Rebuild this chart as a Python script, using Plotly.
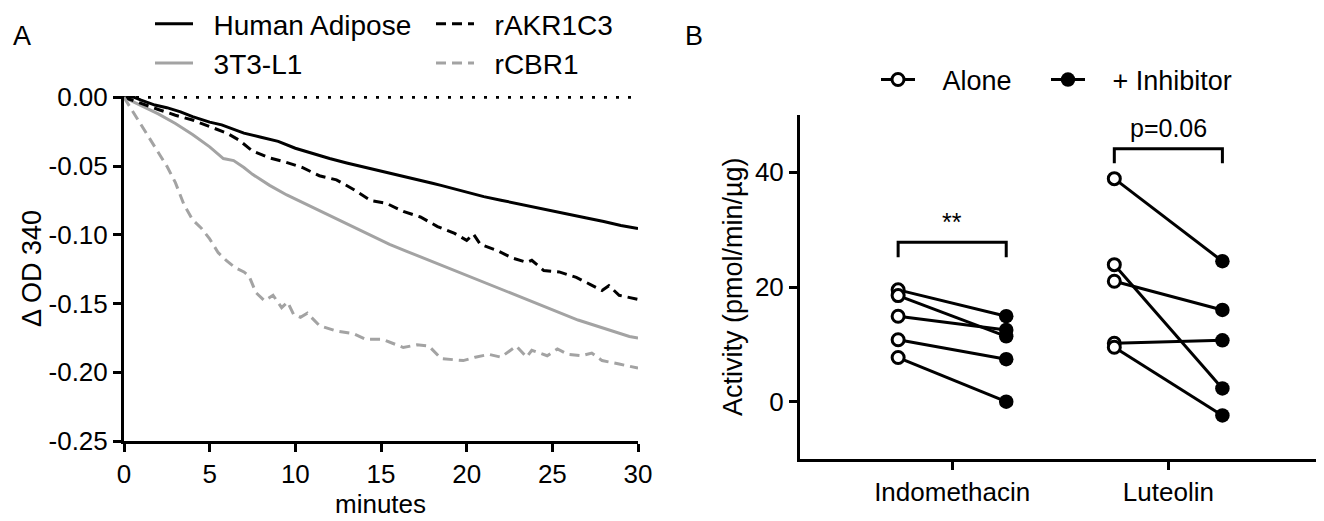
import plotly.graph_objects as go

FONT = "Liberation Sans, Arial, sans-serif"
# the page body has an 8px margin, so the figure is drawn 8px in from the window corner
PAGE_OFF = 8
W, H = 1324 - PAGE_OFF, 521 - PAGE_OFF

# ---------------- Panel A data ----------------
t_human = [0, 0.6, 1, 1.8, 2.5, 3.3, 4, 5, 5.7, 6.5, 7, 8, 9, 10, 11, 12, 13, 14, 15, 16, 17, 18,
           18.5, 19.3, 20, 21, 22, 23, 24, 25, 26, 27, 28, 29, 30]
od_human = [0, 0, -0.002, -0.0056, -0.0075, -0.0105, -0.014, -0.018, -0.020, -0.024, -0.026, -0.029,
            -0.032, -0.037, -0.041, -0.0445, -0.0477, -0.0506, -0.0535, -0.0562, -0.0593, -0.0625,
            -0.064, -0.0668, -0.069, -0.0722, -0.0748, -0.0775, -0.080, -0.0827, -0.0852, -0.0878,
            -0.0903, -0.0932, -0.0955]

t_akr = [0, 0.5, 1, 2, 3, 4, 5, 6, 6.7, 7.5, 8.5, 9.4, 10.4, 11.4, 12.4, 13.4, 14.4, 15.3, 16.3,
         17.3, 18.3, 19.3, 20, 20.4, 20.8, 21.7, 22.7, 23.5, 23.8, 24.5, 25.4, 26.4, 27.2, 27.9,
         28.3, 28.9, 30]
od_akr = [0, -0.002, -0.0044, -0.0088, -0.013, -0.0165, -0.021, -0.026, -0.031, -0.039, -0.044,
          -0.047, -0.051, -0.057, -0.060, -0.067, -0.075, -0.077, -0.083, -0.087, -0.094, -0.099,
          -0.104, -0.0995, -0.107, -0.111, -0.117, -0.120, -0.1185, -0.126, -0.127, -0.131, -0.136,
          -0.1405, -0.137, -0.144, -0.147]

t_3t3 = [0, 1, 2, 3, 4, 5, 5.8, 6.4, 7, 7.5, 8.5, 9.5, 10.5, 11.5, 12.5, 13.5, 14.5, 15.5, 16.5,
         17.5, 18.5, 19.5, 20.5, 21.5, 22.5, 23.5, 24.5, 25.5, 26.5, 27.5, 28.5, 29.5, 30]
od_3t3 = [0, -0.006, -0.012, -0.019, -0.027, -0.036, -0.0445, -0.046, -0.051, -0.056, -0.064, -0.071,
          -0.077, -0.083, -0.089, -0.095, -0.101, -0.107, -0.112, -0.117, -0.122, -0.127, -0.132,
          -0.137, -0.142, -0.147, -0.152, -0.157, -0.162, -0.166, -0.170, -0.174, -0.175]

t_cbr = [0, 0.5, 1, 1.5, 2, 2.5, 3, 3.5, 4, 4.5, 5, 5.5, 6, 6.5, 7, 7.3, 7.7, 8.2, 8.7, 9.2, 9.55,
         9.9, 10.3, 10.7, 11.4, 12.4, 13.4, 14.1, 15.1, 16.3, 17.1, 17.8, 18.5, 19.8, 20.5, 21.3,
         22.0, 22.9, 23.5, 23.8, 24.7, 25.3, 25.9, 26.7, 27.3, 27.9, 28.9, 30]
od_cbr = [0, -0.010, -0.020, -0.030, -0.040, -0.050, -0.062, -0.078, -0.089, -0.095, -0.103, -0.113,
          -0.119, -0.124, -0.127, -0.130, -0.142, -0.148, -0.144, -0.153, -0.149, -0.158, -0.160,
          -0.157, -0.166, -0.170, -0.172, -0.176, -0.176, -0.182, -0.180, -0.181, -0.190, -0.1915,
          -0.189, -0.187, -0.189, -0.181, -0.189, -0.184, -0.188, -0.183, -0.187, -0.188, -0.186,
          -0.1915, -0.194, -0.197]

baseline_t = [0, 30]
baseline_od = [0, 0]

a_xticks = [0, 5, 10, 15, 20, 25, 30]
a_yticks = [0, -0.05, -0.10, -0.15, -0.20, -0.25]
a_yticklabels = ["0.00", "-0.05", "-0.10", "-0.15", "-0.20", "-0.25"]

# ---------------- Panel B data ----------------
b_categories = ["Indomethacin", "Luteolin"]
indo_alone = [19.5, 18.5, 14.9, 10.8, 7.7]
indo_inhib = [14.9, 11.4, 12.5, 7.4, 0.0]
lute_alone = [38.9, 23.9, 21.0, 10.2, 9.5]
lute_inhib = [24.5, 2.3, 16.0, 10.7, -2.4]
b_yticks = [0, 20, 40]
b_sig = ["**", "p=0.06"]

fig = go.Figure()
GRAY = "#a3a3a3"
NB = "\u00a0"


def a_trace(t, v, name, color, dash, legend):
    fig.add_trace(go.Scatter(x=t, y=v, mode="lines", name=NB * 2 + name, legendgroup=name,
                             line=dict(color=color, width=3, dash=dash),
                             xaxis="x", yaxis="y", legend=legend))


fig.add_trace(go.Scatter(x=baseline_t, y=baseline_od, mode="lines", showlegend=False,
                         line=dict(color="black", width=3, dash="3px,9px"),
                         xaxis="x", yaxis="y"))
a_trace(t_human, od_human, "Human Adipose", "black", "solid", "legend")
a_trace(t_3t3, od_3t3, "3T3-L1", GRAY, "solid", "legend")
a_trace(t_akr, od_akr, "rAKR1C3", "black", "10px,6px", "legend2")
a_trace(t_cbr, od_cbr, "rCBR1", GRAY, "10px,6px", "legend2")

# ---------------- Panel B traces ----------------
OFF = 0.25
groups = [(0, indo_alone, indo_inhib), (1, lute_alone, lute_inhib)]
for ci, al, inh in groups:
    for a, b in zip(al, inh):
        fig.add_trace(go.Scatter(x=[ci - OFF, ci + OFF], y=[a, b], mode="lines",
                                 line=dict(color="black", width=3), showlegend=False,
                                 xaxis="x2", yaxis="y2"))
for ci, al, inh in groups:
    fig.add_trace(go.Scatter(x=[ci - OFF] * len(al), y=al, mode="markers", showlegend=False,
                             marker=dict(symbol="circle", size=12, color="white",
                                         line=dict(color="black", width=3)),
                             xaxis="x2", yaxis="y2", cliponaxis=False))
    fig.add_trace(go.Scatter(x=[ci + OFF] * len(inh), y=inh, mode="markers", showlegend=False,
                             marker=dict(symbol="circle", size=14.5, color="black",
                                         line=dict(color="black", width=0)),
                             xaxis="x2", yaxis="y2", cliponaxis=False))

# legend-only entries for panel B
fig.add_trace(go.Scatter(x=[None], y=[None], mode="lines+markers", name=NB * 3 + "Alone",
                         line=dict(color="black", width=3),
                         marker=dict(symbol="circle", size=12, color="white",
                                     line=dict(color="black", width=3)),
                         xaxis="x2", yaxis="y2", legend="legend3"))
fig.add_trace(go.Scatter(x=[None], y=[None], mode="lines+markers", name=NB * 3 + "+ Inhibitor",
                         line=dict(color="black", width=3),
                         marker=dict(symbol="circle", size=14.5, color="black"),
                         xaxis="x2", yaxis="y2", legend="legend4"))

# significance brackets
brackets = [(0, 27.8, 25.2, 31.3), (1, 44.1, 41.6, 47.8)]
for (ci, top, leg, ty), label in zip(brackets, b_sig):
    fig.add_shape(type="path", xref="x2", yref="y2",
                  path=f"M {ci-OFF} {leg} L {ci-OFF} {top} L {ci+OFF} {top} L {ci+OFF} {leg}",
                  line=dict(color="black", width=3))
    fig.add_annotation(x=ci, y=ty, xref="x2", yref="y2", text=label, showarrow=False,
                       font=dict(size=25, family=FONT, color="black"))

axis_common = dict(showline=True, linewidth=3, linecolor="black", ticks="outside", ticklen=8,
                   tickwidth=3, tickcolor="black", showgrid=False, zeroline=False,
                   automargin=False, tickfont=dict(size=26, family=FONT, color="black"))


def px_x(p):
    return (p - PAGE_OFF) / W


def px_y(p):
    return 1 - (p - PAGE_OFF) / H


leg_common = dict(xanchor="left", orientation="v", xref="paper", yref="paper",
                  font=dict(size=28, family=FONT, color="black"), itemwidth=38,
                  bgcolor="rgba(0,0,0,0)", tracegroupgap=8, traceorder="normal")
legb_common = dict(xanchor="left", yanchor="middle", orientation="h", xref="container",
                   yref="container", font=dict(size=27, family=FONT, color="black"),
                   itemwidth=34, bgcolor="rgba(0,0,0,0)")


def ann(x, y, text, size=27, angle=0):
    return dict(x=px_x(x), y=px_y(y), xref="paper", yref="paper", text=text, showarrow=False,
                xanchor="center", yanchor="middle", textangle=angle,
                font=dict(size=size, family=FONT, color="black"))


fig.update_layout(
    width=W, height=H, margin=dict(l=0, r=0, t=0, b=0, autoexpand=False),
    paper_bgcolor="white", plot_bgcolor="white",
    font=dict(family=FONT, color="black", size=26),
    xaxis=dict(domain=[px_x(124), px_x(638)], range=[0, 30], tickvals=a_xticks,
               anchor="y", **axis_common),
    yaxis=dict(domain=[px_y(441), px_y(96)], range=[-0.25, 0.001], tickvals=a_yticks,
               ticktext=a_yticklabels, anchor="x", **axis_common),
    xaxis2=dict(domain=[px_x(800), 1.0], range=[-0.704, 1.72], tickvals=[0, 1],
                ticktext=b_categories, anchor="y2", **axis_common),
    yaxis2=dict(domain=[px_y(459), px_y(115)], range=[-10, 50], tickvals=b_yticks, anchor="x2",
                **axis_common),
    legend=dict(x=px_x(150), y=1.0175, yanchor="top", **leg_common),
    legend2=dict(x=px_x(431), y=1.0175, yanchor="top", **leg_common),
    legend3=dict(x=px_x(876), y=px_y(80), **legb_common),
    legend4=dict(x=px_x(1046), y=px_y(80), **legb_common),
    annotations=list(fig.layout.annotations) + [
        ann(22, 36, "A", 27),
        ann(694, 36, "B", 27),
        ann(381, 504, "minutes", 26),
        ann(32, 269, "Δ OD 340", angle=-90),
        ann(733, 287, "Activity (pmol/min/µg)", angle=-90),
    ],
)

fig.write_html("out.html")
